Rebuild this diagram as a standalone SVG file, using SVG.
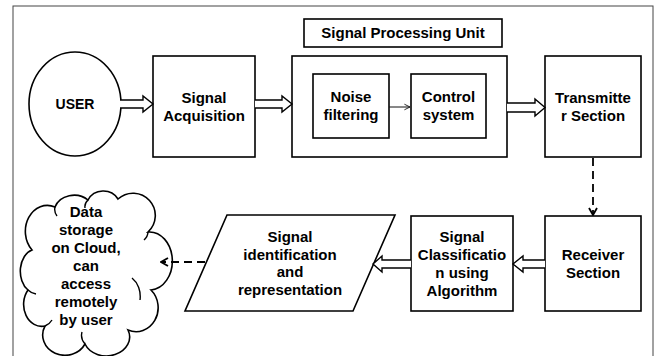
<svg xmlns="http://www.w3.org/2000/svg" width="658" height="356" viewBox="0 0 658 356">
<defs>
<style>
.box{fill:#fff;stroke:#000;stroke-width:1.6}
.blk{fill:#fff;stroke:#000;stroke-width:1.4;stroke-linejoin:miter}
.dash{fill:none;stroke:#000;stroke-width:1.8;stroke-dasharray:8 5}
.thin{fill:none;stroke:#111;stroke-width:1}
.t{font-family:"Liberation Sans",Arial,sans-serif;font-weight:bold;font-size:15px;text-anchor:middle;fill:#000}
</style>
<marker id="chev" viewBox="0 0 10 10" refX="9" refY="5" markerWidth="10" markerHeight="10" markerUnits="userSpaceOnUse" orient="auto">
<path d="M2,1 L9,5 L2,9" fill="none" stroke="#000" stroke-width="1.8"/>
</marker>
<marker id="chevs" viewBox="0 0 10 10" refX="9" refY="5" markerWidth="8" markerHeight="8" markerUnits="userSpaceOnUse" orient="auto">
<path d="M2,1.5 L9,5 L2,8.5" fill="none" stroke="#111" stroke-width="1.1"/>
</marker>
</defs>
<rect x="0" y="0" width="658" height="356" fill="#fff"/>
<rect x="13" y="6" width="640" height="370" fill="none" stroke="#444" stroke-width="1"/>

<g id="user">
<ellipse cx="75" cy="104" rx="46" ry="52" class="box"/>
<text class="t" x="75" y="109" style="font-size:14px">USER</text>
</g>

<g id="signal-acquisition">
<rect x="153" y="56" width="102" height="101" class="box"/>
<text class="t" x="204" y="103">Signal</text>
<text class="t" x="204" y="121">Acquisition</text>
</g>

<g id="spu-title">
<rect x="304" y="19" width="198" height="28" class="box"/>
<text class="t" x="403" y="38">Signal Processing Unit</text>
</g>

<g id="spu">
<rect x="292" y="56" width="215" height="101" class="box"/>
</g>

<g id="noise-filtering">
<rect x="313" y="74" width="76" height="64" class="box"/>
<text class="t" x="351" y="102">Noise</text>
<text class="t" x="351" y="120">filtering</text>
</g>

<g id="control-system">
<rect x="411" y="74" width="75" height="64" class="box"/>
<text class="t" x="448.5" y="102">Control</text>
<text class="t" x="448.5" y="120">system</text>
</g>

<g id="transmitter">
<rect x="545" y="56" width="96" height="101" class="box"/>
<text class="t" x="593" y="103">Transmitte</text>
<text class="t" x="593" y="121">r Section</text>
</g>

<g id="receiver">
<rect x="545" y="216" width="96" height="95" class="box"/>
<text class="t" x="593" y="260">Receiver</text>
<text class="t" x="593" y="278">Section</text>
</g>

<g id="signal-classification">
<rect x="411" y="216" width="102" height="95" class="box"/>
<text class="t" x="462" y="242">Signal</text>
<text class="t" x="462" y="260">Classificatio</text>
<text class="t" x="462" y="278">n using</text>
<text class="t" x="462" y="296">Algorithm</text>
</g>

<g id="signal-identification">
<polygon points="227,215 395,215 353,311 185,311" class="box"/>
<text class="t" x="290" y="242">Signal</text>
<text class="t" x="290" y="259.5">identification</text>
<text class="t" x="290" y="277">and</text>
<text class="t" x="290" y="294.5">representation</text>
</g>

<g id="cloud">
<path class="box" d="M32,250 A22,26 0 0 1 55,207 A20,17 0 0 1 88,200 A17,16 0 0 1 118,199 A22,22 0 0 1 148,232 A22,28 0 0 1 151,290 A22,24 0 0 1 128,330 A22,18 0 0 1 85,344 A22,20 0 0 1 45,326 A18,22 0 0 1 28,290 A16,22 0 0 1 32,250 Z"/>
<path fill="none" stroke="#000" stroke-width="1.4" d="M55,207 A14,12 0 0 0 57,216 M88,200 A12,10 0 0 0 85,208 M148,232 A14,12 0 0 1 144,240 M132,278 A18,22 0 0 1 140,300 M85,344 A16,14 0 0 1 82,332 M45,326 A14,14 0 0 0 52,320 M28,290 A14,12 0 0 0 36,294"/>
<text class="t" x="86" y="217">Data</text>
<text class="t" x="86" y="235">storage</text>
<text class="t" x="86" y="253">on Cloud,</text>
<text class="t" x="86" y="271">can</text>
<text class="t" x="86" y="289">access</text>
<text class="t" x="86" y="307">remotely</text>
<text class="t" x="86" y="325">by user</text>
</g>

<g id="connectors">
<path class="blk" d="M120,100 H143 V96 L153,104 L143,112 V108 H120"/>
<path class="blk" d="M255,100 H282 V96 L292,104 L282,112 V108 H255"/>
<path class="blk" d="M507,103 H535 V99 L545,107.5 L535,116 V112 H507"/>
<path class="blk" d="M545,260 H523 V256 L513,264 L523,272 V268 H545"/>
<path class="blk" d="M411,260 H382 V256 L373,264 L382,272 V268 H411"/>
<line class="thin" x1="389" y1="107" x2="410" y2="107" marker-end="url(#chevs)"/>
<line class="dash" x1="593" y1="158" x2="593" y2="215" marker-end="url(#chev)"/>
<line class="dash" x1="205" y1="262" x2="161" y2="262" marker-end="url(#chev)"/>
</g>
</svg>
